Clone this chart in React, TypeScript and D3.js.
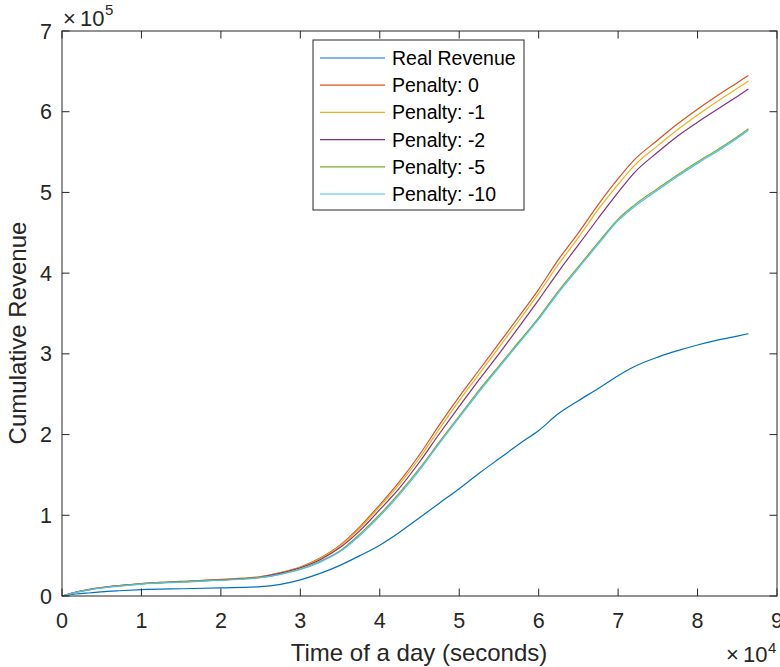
import React from "react";
import * as d3 from "d3";

const times = [0, 1800, 3600, 5400, 7200, 10000, 15000, 20000, 25000, 27500, 30000, 32500, 35000, 37500, 40000, 42500, 45000, 47500, 50000, 52500, 55000, 57500, 60000, 62500, 65000, 67500, 70000, 72000, 75000, 77500, 80000, 82500, 85000, 86400];

const realRevenue = [0, 0.025, 0.04, 0.055, 0.065, 0.078, 0.09, 0.1, 0.115, 0.145, 0.2, 0.28, 0.38, 0.5, 0.63, 0.79, 0.97, 1.15, 1.33, 1.52, 1.7, 1.88, 2.05, 2.26, 2.42, 2.57, 2.73, 2.84, 2.96, 3.04, 3.11, 3.17, 3.22, 3.25];
const penalty0 = [0, 0.05, 0.085, 0.11, 0.13, 0.155, 0.18, 0.205, 0.24, 0.29, 0.36, 0.47, 0.63, 0.86, 1.13, 1.42, 1.75, 2.12, 2.47, 2.8, 3.13, 3.46, 3.8, 4.17, 4.5, 4.85, 5.17, 5.4, 5.65, 5.85, 6.03, 6.2, 6.36, 6.45];
const penalty1 = [0, 0.05, 0.085, 0.11, 0.13, 0.155, 0.18, 0.204, 0.238, 0.287, 0.355, 0.46, 0.62, 0.84, 1.11, 1.39, 1.71, 2.07, 2.42, 2.75, 3.08, 3.41, 3.75, 4.11, 4.44, 4.79, 5.1, 5.33, 5.58, 5.78, 5.96, 6.13, 6.29, 6.38];
const penalty2 = [0, 0.05, 0.084, 0.108, 0.128, 0.152, 0.177, 0.2, 0.235, 0.283, 0.35, 0.45, 0.6, 0.81, 1.07, 1.34, 1.66, 2.01, 2.35, 2.68, 3.0, 3.33, 3.67, 4.02, 4.35, 4.68, 5.0, 5.24, 5.5, 5.7, 5.87, 6.03, 6.19, 6.28];
const penalty5 = [0, 0.045, 0.08, 0.105, 0.125, 0.15, 0.175, 0.198, 0.23, 0.272, 0.335, 0.43, 0.56, 0.77, 1.01, 1.28, 1.58, 1.91, 2.23, 2.55, 2.85, 3.15, 3.45, 3.78, 4.08, 4.38, 4.67, 4.84, 5.05, 5.22, 5.38, 5.53, 5.69, 5.79];
const penalty10 = [0, 0.044, 0.078, 0.103, 0.123, 0.148, 0.172, 0.195, 0.226, 0.268, 0.328, 0.42, 0.55, 0.75, 0.99, 1.26, 1.56, 1.89, 2.21, 2.53, 2.83, 3.13, 3.43, 3.76, 4.06, 4.36, 4.65, 4.82, 5.03, 5.2, 5.36, 5.51, 5.67, 5.77];

const seriesNames = ["Real Revenue", "Penalty: 0", "Penalty: -1", "Penalty: -2", "Penalty: -5", "Penalty: -10"];
const seriesValues = [realRevenue, penalty0, penalty1, penalty2, penalty5, penalty10];
const seriesColors = ["#0072BD", "#D95319", "#EDB120", "#7E2F8E", "#77AC30", "#4DBEEE"];

const xTicks = [0, 1, 2, 3, 4, 5, 6, 7, 8, 9];
const yTicks = [0, 1, 2, 3, 4, 5, 6, 7];

const W = 780, H = 667;
const left = 62, right = 777, top = 31, bottom = 596;
const axisColor = "#262626";
const font = "Arial, 'Liberation Sans', Helvetica, sans-serif";

export default function App() {
  const x = d3.scaleLinear().domain([0, 9e4]).range([left, right]);
  const y = d3.scaleLinear().domain([0, 7e5]).range([bottom, top]);
  const line = d3
    .line<[number, number]>()
    .x((d) => x(d[0]))
    .y((d) => y(d[1]))
    .curve(d3.curveMonotoneX);

  const tickLen = 7.5;
  const legX = 313, legY = 40, legW = 211, legH = 170;
  const rowStart = 58, rowStep = 27.2;
  const tickFont = 21.5;

  return (
    <svg width={W} height={H} style={{ position: "absolute", left: 0, top: 0, background: "#fff" }} fontFamily={font}>
      <rect x={0} y={0} width={W} height={H} fill="#fff" />
      {/* series */}
      {seriesValues.map((vals, i) => (
        <path
          key={i}
          d={line(times.map((t, j) => [t, vals[j] * 1e5]) as [number, number][]) || ""}
          fill="none"
          stroke={seriesColors[i]}
          strokeWidth={1.2}
        />
      ))}
      {/* box */}
      <rect x={left} y={top} width={right - left} height={bottom - top} fill="none" stroke={axisColor} strokeWidth={1} />
      {/* x ticks */}
      {xTicks.map((t) => (
        <g key={"x" + t}>
          <line x1={x(t * 1e4)} x2={x(t * 1e4)} y1={bottom} y2={bottom - tickLen} stroke={axisColor} />
          <line x1={x(t * 1e4)} x2={x(t * 1e4)} y1={top} y2={top + tickLen} stroke={axisColor} />
          <text x={x(t * 1e4)} y={628} textAnchor="middle" fontSize={tickFont} fill={axisColor}>
            {t}
          </text>
        </g>
      ))}
      {/* y ticks */}
      {yTicks.map((t) => (
        <g key={"y" + t}>
          <line x1={left} x2={left + tickLen} y1={y(t * 1e5)} y2={y(t * 1e5)} stroke={axisColor} />
          <line x1={right} x2={right - tickLen} y1={y(t * 1e5)} y2={y(t * 1e5)} stroke={axisColor} />
          <text x={52} y={y(t * 1e5) + 7.5} textAnchor="end" fontSize={tickFont} fill={axisColor}>
            {t}
          </text>
        </g>
      ))}
      {/* exponents */}
      <text x={63} y={26} fontSize={22} fill={axisColor}>×</text>
      <text x={80} y={26} fontSize={22} fill={axisColor}>10</text>
      <text x={105} y={15} fontSize={15} fill={axisColor}>5</text>
      <text x={726} y={662} fontSize={22} fill={axisColor}>×</text>
      <text x={743} y={662} fontSize={22} fill={axisColor}>10</text>
      <text x={768} y={653} fontSize={15} fill={axisColor}>4</text>
      {/* axis labels */}
      <text x={419} y={661} textAnchor="middle" fontSize={24} fill={axisColor}>
        Time of a day (seconds)
      </text>
      <text transform={`translate(26,333) rotate(-90)`} textAnchor="middle" fontSize={24} fill={axisColor}>
        Cumulative Revenue
      </text>
      {/* legend */}
      <rect x={legX} y={legY} width={legW} height={legH} fill="#fff" stroke={axisColor} strokeWidth={1} />
      {seriesNames.map((name, i) => (
        <g key={"l" + i}>
          <line x1={320} x2={385} y1={rowStart + i * rowStep} y2={rowStart + i * rowStep} stroke={seriesColors[i]} strokeWidth={1.2} />
          <text x={392} y={rowStart + i * rowStep + 7} fontSize={19.5} fill="#000">
            {name}
          </text>
        </g>
      ))}
    </svg>
  );
}
